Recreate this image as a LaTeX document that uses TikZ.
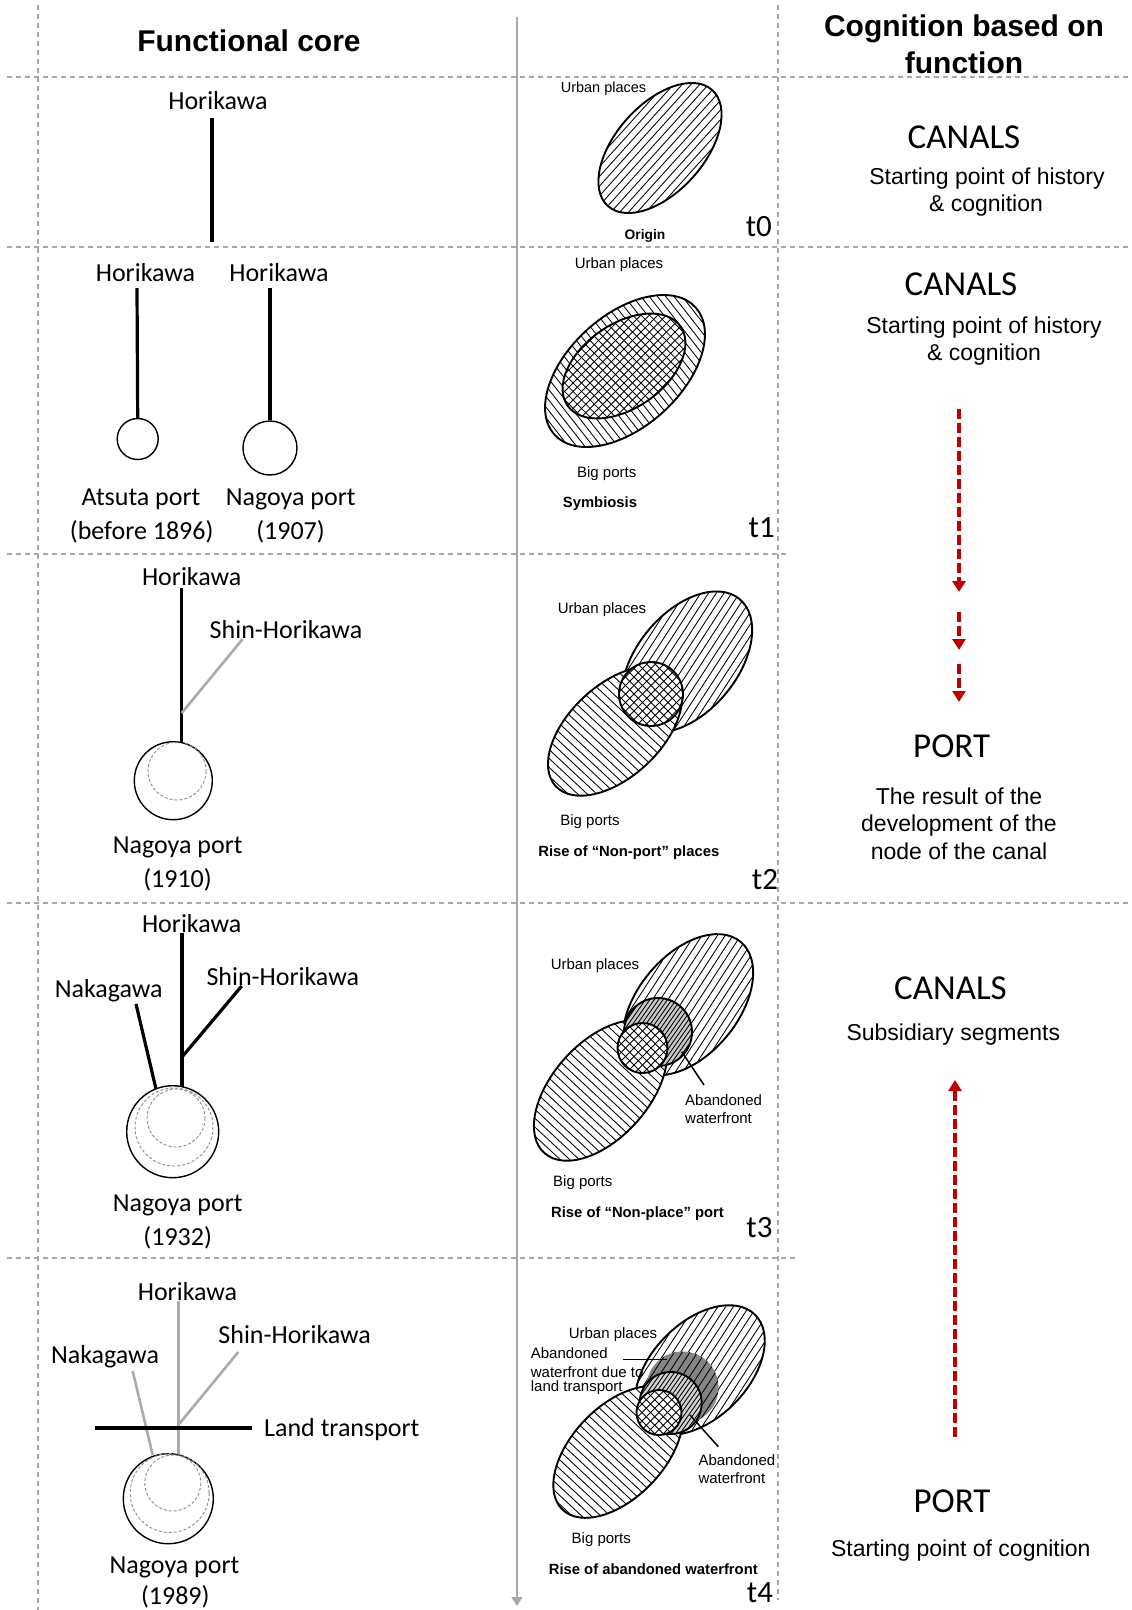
\documentclass[tikz,border=0pt]{standalone}
\usepackage{fontspec}
\setmainfont{Liberation Sans}
\newfontfamily\calfont{Carlito}
\usetikzlibrary{arrows.meta}
\definecolor{dred}{HTML}{C00000}
\definecolor{gridgray}{HTML}{A8A8A8}

\newcommand\hatchlines[5]{%
  \foreach \k in {-26,...,26}{%
    \draw[#5, rotate around={#3:(#1,#2)}] ({#1+\k*#4},{#2-160}) -- ({#1+\k*#4},{#2+160});
  }%
}
% cx cy a b rot hatchangle spacing
\newcommand\hatchell[7]{%
  \begin{scope}
    \clip[rotate around={#5:(#1,#2)}] (#1,#2) ellipse [x radius=#3, y radius=#4];
    \fill[white] ({#1-200},{#2-200}) rectangle ({#1+200},{#2+200});
    \hatchlines{#1}{#2}{#6}{#7}{hl}
  \end{scope}
  \draw[outl, rotate around={#5:(#1,#2)}] (#1,#2) ellipse [x radius=#3, y radius=#4];
}
% cx cy a b rot spacing
\newcommand\crossell[6]{%
  \begin{scope}
    \clip[rotate around={#5:(#1,#2)}] (#1,#2) ellipse [x radius=#3, y radius=#4];
    \fill[white] ({#1-200},{#2-200}) rectangle ({#1+200},{#2+200});
    \hatchlines{#1}{#2}{45}{#6}{hl}
    \hatchlines{#1}{#2}{-45}{#6}{hl}
  \end{scope}
  \draw[outl, rotate around={#5:(#1,#2)}] (#1,#2) ellipse [x radius=#3, y radius=#4];
}
% cx cy r fill
\newcommand\abandon[4]{%
  \begin{scope}
    \clip (#1,#2) circle [radius=#3];
    \fill[#4] ({#1-100},{#2-100}) rectangle ({#1+100},{#2+100});
    \hatchlines{#1}{#2}{-35}{3.6}{hl}
  \end{scope}
}

\begin{document}
\begin{tikzpicture}[x=1pt,y=-1pt,
  grid/.style={draw=gridgray, line width=1.1pt, dash pattern=on 5pt off 4pt},
  canal/.style={line width=3.2pt, black},
  gcanal/.style={line width=2.6pt, black!33},
  portc/.style={circle, draw, line width=1.4pt, inner sep=0pt},
  oldport/.style={draw=black!45, line width=0.9pt, dash pattern=on 3pt off 2pt},
  hl/.style={line width=0.85pt, black},
  outl/.style={line width=1.9pt, black},
  lbl/.style={font=\calfont\fontsize{26}{30}\selectfont, inner sep=0pt},
  tlbl/.style={font=\calfont\fontsize{31}{36}\selectfont, inner sep=0pt},
  small/.style={font=\fontsize{15}{18}\selectfont, inner sep=0pt},
  smallb/.style={font=\bfseries\fontsize{14.8}{18}\selectfont, inner sep=0pt},
  head/.style={font=\bfseries\fontsize{30}{36}\selectfont, inner sep=0pt},
  big/.style={font=\calfont\fontsize{35}{40}\selectfont, inner sep=0pt},
  sub/.style={font=\fontsize{23}{28}\selectfont, inner sep=0pt},
  subb/.style={font=\fontsize{23}{28}\selectfont, inner sep=0pt, anchor=base},
  redarr/.style={draw=dred, line width=4pt, dash pattern=on 10pt off 4pt, -{Triangle[width=13pt,length=11pt]}},
  pointer/.style={line width=1.5pt, black}
]
\useasboundingbox (0,0) rectangle (1132,1610);
\fill[white] (0,0) rectangle (1132,1610);

% ---------------- grid ----------------
\draw[grid] (7,77) -- (1132,77);
\draw[grid] (7,247) -- (1132,247);
\draw[grid] (7,554) -- (790,554);
\draw[grid] (7,903) -- (1132,903);
\draw[grid] (7,1258) -- (795,1258);
\draw[grid] (38,5) -- (38,1610);
\draw[grid] (778,5) -- (778,1600);
\coordinate (timetop) at (517,17);
\coordinate (timebot) at (517,1606);
\draw[draw=gridgray, line width=1.5pt, -{Triangle[width=11pt,length=9pt]}] (timetop) -- (timebot);

% ---------------- headers ----------------
\node[head] (hfc) at (249,41) {Functional core};
\node[head] (hcg1) at (964,29) {Cognition based on};
\node[head] (hcg2) at (964,63) {function};

% ---------------- left column ----------------
% t0
\node[lbl] (l0h) at (218,101) {Horikawa};
\coordinate (l0a) at (212,118);
\coordinate (l0b) at (212,242);
\draw[canal] (l0a) -- (l0b);

% t1
\node[lbl] (l1h1) at (145.5,273) {Horikawa};
\node[lbl] (l1h2) at (279,273) {Horikawa};
\node[portc, minimum size=41pt] (l1c1) at (137.7,439) {};
\node[portc, minimum size=54pt] (l1c2) at (270,448) {};
\coordinate (l1a) at (137,288);
\coordinate (l1b) at (270,288);
\draw[canal] (l1a) -- (l1c1.north);
\draw[canal] (l1b) -- (l1c2.north);
\node[lbl] (l1p1) at (141,499) {Atsuta port};
\node[lbl] (l1y1) at (141.7,532) {(before 1896)};
\node[lbl] (l1p2) at (290.7,499) {Nagoya port};
\node[lbl] (l1y2) at (290.5,532) {(1907)};

% t2
\node[lbl] (l2h) at (191.7,577) {Horikawa};
\node[lbl] (l2s) at (286,630) {Shin-Horikawa};
\node[portc, minimum size=78pt] (l2c) at (173.3,780.7) {};
\draw[oldport] (177,771) circle [radius=29];
\coordinate (l2a) at (181.7,588);
\coordinate (l2b) at (181.7,742.5);
\coordinate (l2j) at (181.7,713);
\coordinate (l2s1) at (242.7,639);
\draw[canal] (l2a) -- (l2b);
\draw[gcanal] (l2j) -- (l2s1);
\node[lbl] (l2p) at (177.7,847) {Nagoya port};
\node[lbl] (l2y) at (177.5,880) {(1910)};

% t3
\node[lbl] (l3h) at (191.7,924) {Horikawa};
\node[lbl] (l3s) at (282.8,977) {Shin-Horikawa};
\node[lbl] (l3n) at (108.7,991) {Nakagawa};
\node[portc, minimum size=92pt] (l3c) at (172.7,1131.7) {};
\draw[oldport] (174,1127) circle [radius=39];
\draw[oldport] (176,1118) circle [radius=29];
\coordinate (l3a) at (182,933);
\coordinate (l3b) at (182,1087);
\coordinate (l3j) at (182,1057);
\coordinate (l3s1) at (241.7,986);
\coordinate (l3n1) at (136,1004);
\coordinate (l3n2) at (156,1089);
\draw[canal] (l3a) -- (l3b);
\draw[canal] (l3j) -- (l3s1);
\draw[canal] (l3n1) -- (l3n2);
\node[lbl] (l3p) at (177.7,1205) {Nagoya port};
\node[lbl] (l3y) at (177.7,1238) {(1932)};

% t4
\node[lbl] (l4h) at (187.5,1292) {Horikawa};
\node[lbl] (l4s) at (294.7,1335) {Shin-Horikawa};
\node[lbl] (l4n) at (105,1357) {Nakagawa};
\node[lbl, anchor=west] (l4l) at (264,1430) {Land transport};
\node[portc, minimum size=90pt] (l4c) at (168.3,1498.7) {};
\draw[oldport] (169.7,1493) circle [radius=39.5];
\draw[oldport] (172.8,1483) circle [radius=28];
\coordinate (l4a) at (178.3,1301);
\coordinate (l4b) at (178.3,1454);
\coordinate (l4j) at (178.3,1425);
\coordinate (l4s1) at (238.3,1352);
\coordinate (l4n1) at (132.7,1371);
\coordinate (l4n2) at (152.7,1455);
\coordinate (l4t1) at (95,1428);
\coordinate (l4t2) at (251.7,1428);
\draw[gcanal] (l4a) -- (l4b);
\draw[gcanal] (l4j) -- (l4s1);
\draw[gcanal] (l4n1) -- (l4n2);
\draw[canal] (l4t1) -- (l4t2);
\node[lbl] (l4p) at (174.5,1567) {Nagoya port};
\node[lbl] (l4y) at (175.3,1597) {(1989)};

% ---------------- middle column ----------------
% t0
\hatchell{660}{148}{78}{44}{48}{-42}{6.5}
\node[small, font=\fontsize{14.5}{17}\selectfont] (m0u) at (603.5,89) {Urban places};
\node[smallb, font=\bfseries\fontsize{13.8}{17}\selectfont] (m0o) at (645,236) {Origin};
\node[tlbl] (m0t) at (758.8,226.7) {t0};

% t1
\hatchell{625}{371}{95}{56}{42}{38}{6.5}
\crossell{624}{366}{69}{42}{35}{6}
\node[small] (m1u) at (619,265) {Urban places};
\node[small] (m1b) at (606.7,474) {Big ports};
\node[smallb] (m1s) at (600,504) {Symbiosis};
\node[tlbl] (m1t) at (761.7,528) {t1};

% t2
\hatchell{687}{662}{82}{50}{50}{-33}{6.5}
\hatchell{615}{731}{81}{46}{43}{47}{6.5}
\crossell{651}{694}{32}{32}{0}{6}
\node[small] (m2u) at (602,610) {Urban places};
\node[small] (m2b) at (590,821.7) {Big ports};
\node[smallb] (m2r) at (628.8,852.7) {Rise of “Non-port” places};
\node[tlbl] (m2t) at (765,880) {t2};

% t3
\hatchell{688}{1004.7}{82}{50}{50}{-33}{6.5}
\hatchell{600.5}{1090.5}{84}{48}{48}{47}{6.5}
\abandon{658}{1032}{34}{black!22}
\draw[outl] (658,1032) circle [radius=34];
\crossell{642.5}{1048}{25}{25}{0}{6}
\coordinate (m3p1) at (681.7,1051.7);
\coordinate (m3p2) at (704,1085);
\draw[pointer] (m3p1) -- (m3p2);
\node[small] (m3u) at (595,966) {Urban places};
\node[small, anchor=west] (m3a1) at (685,1100) {Abandoned};
\node[small, anchor=west] (m3a2) at (685,1118) {waterfront};
\node[small] (m3b) at (582.8,1183) {Big ports};
\node[smallb] (m3r) at (637.5,1214) {Rise of “Non-place” port};
\node[tlbl] (m3t) at (759.5,1228) {t3};

% t4
\hatchell{700}{1370}{78}{48}{45}{-33}{6.5}
\hatchell{618}{1452}{80}{46}{46}{47}{6.5}
\begin{scope}
  \clip (682.5,1387.5) circle [radius=36];
  \clip[rotate around={45:(700,1370)}] (700,1370) ellipse [x radius=78, y radius=48];
  \fill[black!48] (600,1300) rectangle (780,1480);
  \hatchlines{682.5}{1387.5}{-33}{6.5}{hl}
\end{scope}
\abandon{670.7}{1403}{31}{black!18}
\draw[outl] (670.7,1403) circle [radius=31];
\crossell{659}{1412.5}{22.5}{22.5}{0}{6}
\coordinate (m4q1) at (623.3,1359.3);
\coordinate (m4q2) at (666.7,1359.3);
\draw[pointer] (m4q1) -- (m4q2);
\coordinate (m4p1) at (690,1415);
\coordinate (m4p2) at (718.3,1446.7);
\draw[pointer] (m4p1) -- (m4p2);
\node[small] (m4u) at (613,1335) {Urban places};
\node[small, anchor=west] (m4d1) at (530.7,1352.7) {Abandoned};
\node[small, anchor=west] (m4d2) at (530.7,1371.7) {waterfront due to};
\node[small, anchor=west] (m4d3) at (530.7,1387.3) {land transport};
\node[small, anchor=west] (m4a1) at (698.3,1460) {Abandoned};
\node[small, anchor=west] (m4a2) at (698.3,1478.3) {waterfront};
\node[small] (m4b) at (601.3,1539.3) {Big ports};
\node[smallb] (m4r) at (653.3,1569) {Rise of abandoned waterfront};
\node[tlbl] (m4t) at (760,1593) {t4};

% ---------------- right column ----------------
\node[big] (r0c) at (964,137) {CANALS};
\node[sub] (r0s1) at (987,179) {Starting point of history};
\node[sub] (r0s2) at (986,206) {\& cognition};

\node[big] (r1c) at (961,284) {CANALS};
\node[sub] (r1s1) at (984,327.6) {Starting point of history};
\node[sub] (r1s2) at (984,354.5) {\& cognition};

\coordinate (a1s) at (959,409);
\coordinate (a1e) at (959,592);
\coordinate (a2s) at (959,612);
\coordinate (a2e) at (959,650);
\coordinate (a3s) at (959,664);
\coordinate (a3e) at (959,702);
\draw[redarr] (a1s) -- (a1e);
\draw[redarr] (a2s) -- (a2e);
\draw[redarr] (a3s) -- (a3e);

\node[big] (r2p) at (951.7,746.4) {PORT};
\node[subb] (r2s1) at (959,804) {The result of the};
\node[subb] (r2s2) at (959,831.5) {development of the};
\node[subb] (r2s3) at (959,859) {node of the canal};

\node[big] (r3c) at (950.5,988.5) {CANALS};
\node[sub] (r3s) at (953.3,1035) {Subsidiary segments};

\coordinate (a4s) at (955,1437);
\coordinate (a4e) at (955,1080);
\draw[redarr] (a4s) -- (a4e);

\node[big] (r4p) at (952,1500.8) {PORT};
\node[sub] (r4s) at (960.8,1550.9) {Starting point of cognition};
\end{tikzpicture}
\end{document}
